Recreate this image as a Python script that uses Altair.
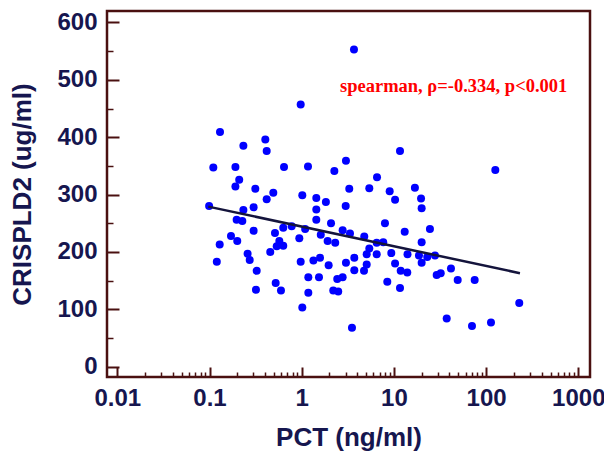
import altair as alt
import pandas as pd

# PCT (ng/ml) and CRISPLD2 (ug/ml)
pct = [0.130, 0.233, 0.110, 0.191, 0.210, 0.191, 0.314, 0.099, 0.233, 0.301,
       0.197, 0.227, 0.301, 0.171, 0.129, 0.200, 0.259, 0.273, 0.120, 0.325,
       0.319, 3.69, 0.975, 0.403, 0.417, 11.65, 0.643, 1.17, 3.02, 2.26,
       6.56, 0.492, 1.015, 3.28, 5.41, 9.0, 0.417, 1.44, 1.83, 10.3,
       3.0, 1.44, 1.44, 2.08, 8.0, 13.1, 0.513, 0.631, 0.779, 1.09,
       0.942, 1.61, 1.91, 2.31, 2.78, 3.34, 4.77, 6.51, 7.67, 0.572,
       0.631, 0.536, 0.456, 5.41, 5.07, 6.51, 9.37, 14.05, 0.975, 1.34,
       1.58, 1.96, 3.02, 3.72, 5.07, 4.74, 3.72, 10.3, 11.85, 13.97,
       0.522, 1.18, 1.54, 2.43, 2.78, 8.48, 11.65, 0.596, 1.18, 2.20,
       2.49, 1.015, 3.51, 125.9, 16.9, 19.7, 20.0, 24.6, 20.0, 18.7,
       23.0, 27.9, 20.0, 29.1, 32.2, 41.6, 49.2, 75.2, 229, 37.4,
       70.3, 113]
crispld2 = [409, 385, 347, 348, 326, 314, 310, 280, 273, 278,
            256, 254, 237, 228, 213, 219, 197, 186, 183, 167,
            134, 553, 457, 396, 376, 376, 348, 349, 359, 341,
            330, 303, 299, 310, 311, 306, 292, 294, 287, 291,
            280, 274, 256, 250, 250, 235, 233, 242, 245, 240,
            224, 230, 219, 216, 238, 232, 227, 216, 217, 219,
            211, 210, 200, 206, 196, 196, 198, 196, 183, 185,
            190, 177, 181, 190, 178, 167, 168, 180, 167, 164,
            146, 156, 156, 153, 156, 148, 137, 133, 129, 133,
            131, 103, 68, 343, 312, 293, 276, 240, 217, 194,
            191, 194, 181, 160, 163, 171, 151, 151, 111, 84,
            71, 77]

# fitted line ends
fit_pct = [0.097, 233]
fit_crispld2 = [279, 163]

x_major = [0.01, 0.1, 1, 10, 100, 1000]
x_minor = [k * 10.0 ** e for e in range(-2, 3) for k in range(2, 10)]
y_major = [0, 100, 200, 300, 400, 500, 600]
y_minor = [50, 150, 250, 350, 450, 550]

note = "spearman, \u03c1=-0.334, p<0.001"

points_df = pd.DataFrame({"PCT": pct, "CRISPLD2": crispld2})
fit_df = pd.DataFrame({"PCT": fit_pct, "CRISPLD2": fit_crispld2})

frame_col = "#4a1010"
label_col = "#16164f"
sans = "Liberation Sans"

xscale = alt.Scale(type="log", domain=[0.00773, 1340], nice=False)
yscale = alt.Scale(domain=[-18, 620], nice=False, zero=False)

points = alt.Chart(points_df).mark_circle(size=64, color="#0000ff", opacity=1).encode(
    x=alt.X("PCT:Q", scale=xscale, axis=alt.Axis(
        orient="bottom", values=x_major, offset=-10, tickSize=10, tickWidth=2,
        tickColor=frame_col, domain=False, grid=False, labelFlush=False,
        labelExpr="format(datum.value, '~g')", labelFont=sans, labelFontSize=24,
        labelFontWeight="bold", labelColor=label_col, labelPadding=9,
        title="PCT (ng/ml)", titleFont=sans, titleFontSize=26, titleFontWeight="bold",
        titleColor=label_col, titlePadding=14)),
    y=alt.Y("CRISPLD2:Q", scale=yscale, axis=alt.Axis(
        orient="left", values=y_major, offset=-12, tickSize=12, tickWidth=2,
        tickColor=frame_col, domain=False, grid=False, labelFlush=False,
        labelFont=sans, labelFontSize=24, labelFontWeight="bold",
        labelColor=label_col, labelPadding=10,
        title="CRISPLD2 (ug/ml)", titleFont=sans, titleFontSize=26,
        titleFontWeight="bold", titleColor=label_col, titlePadding=21)),
)

fit = alt.Chart(fit_df).mark_line(color="#14143c", strokeWidth=2.5).encode(
    x=alt.X("PCT:Q", scale=xscale, axis=alt.Axis(
        orient="bottom", values=x_minor, offset=-5, tickSize=5, tickWidth=1.5,
        tickColor=frame_col, domain=False, grid=False, labels=False, title="")),
    y=alt.Y("CRISPLD2:Q", scale=yscale, axis=alt.Axis(
        orient="left", values=y_minor, offset=-6, tickSize=6, tickWidth=1.5,
        tickColor=frame_col, domain=False, grid=False, labels=False, title="")),
)

label = alt.Chart(pd.DataFrame({"t": [note]})).mark_text(
    font="Liberation Serif", fontSize=18.5, fontWeight="bold", color="#ff0000",
    align="left", baseline="middle"
).encode(x=alt.value(233), y=alt.value(75), text="t:N")

chart = alt.layer(points, fit, label).resolve_axis(
    x="independent", y="independent"
).properties(
    width=483, height=366,
    autosize="none",
    padding={"left": 99, "top": 3, "right": 14, "bottom": 75},
    background="white",
).configure_view(stroke=frame_col, strokeWidth=2.5)

chart.save("out.html", embed_options={"renderer": "svg", "actions": False})
